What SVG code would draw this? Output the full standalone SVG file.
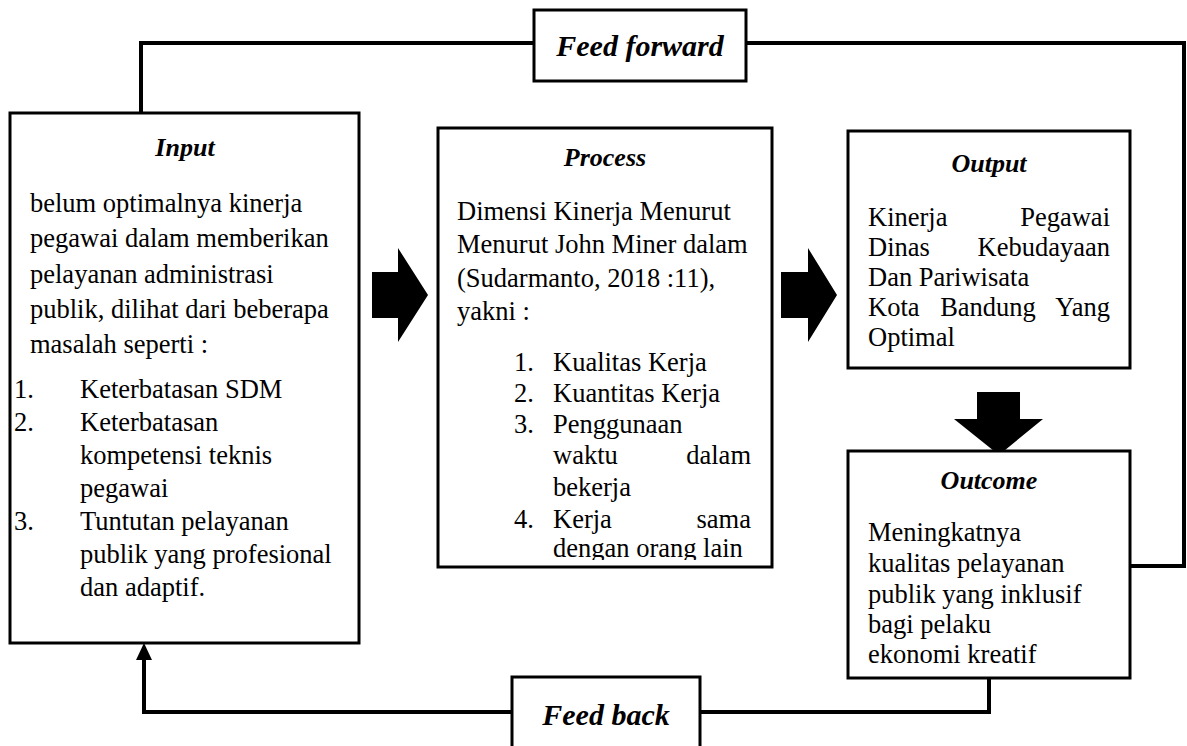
<svg xmlns="http://www.w3.org/2000/svg" width="1187" height="746" viewBox="0 0 1187 746">
<defs>
<style>
.box{fill:#fff;stroke:#000;stroke-width:3}
.t{font-family:"Liberation Serif","Times New Roman",serif;font-size:26.5px;fill:#000}
.h{font-family:"Liberation Serif","Times New Roman",serif;font-size:26px;font-weight:bold;font-style:italic;fill:#000}
.f{font-family:"Liberation Serif","Times New Roman",serif;font-size:30px;font-weight:bold;font-style:italic;fill:#000}
.ln{fill:none;stroke:#000;stroke-width:4}
</style>
<clipPath id="pclip"><rect x="438" y="128" width="334" height="432"/></clipPath>
</defs>
<rect width="1187" height="746" fill="#fff"/>
<g id="connectors">
<polyline class="ln" points="534,43 141,43 141,113"/>
<polyline class="ln" points="746,43 1184,43 1184,566 1130,566"/>
<polyline class="ln" points="989,678 989,712 700,712"/>
<polyline class="ln" points="512,712 144,712 144,656"/>
<path d="M136,660 L144,643 L152,660 Z" fill="#000"/>
<path d="M372,272 H398 V248 L428,295 L398,342 V318 H372 Z" fill="#000"/>
<path d="M781,272 H808 V248 L837,295 L808,342 V318 H781 Z" fill="#000"/>
<path d="M977,392 H1020 V419 H1043 L999,455 L954,419 H977 Z" fill="#000"/>
</g>
<g id="feedforward">
<rect class="box" x="534" y="10" width="212" height="71"/>
<text class="f" x="640" y="56" text-anchor="middle">Feed forward</text>
</g>
<g id="feedback">
<rect class="box" x="512" y="677" width="188" height="90"/>
<text class="f" x="606" y="725" text-anchor="middle">Feed back</text>
</g>
<g id="input">
<rect class="box" x="10" y="113" width="349" height="530"/>
<text class="h" x="185" y="156" text-anchor="middle">Input</text>
<text class="t" x="30" y="212">belum optimalnya kinerja</text>
<text class="t" x="30" y="247">pegawai dalam memberikan</text>
<text class="t" x="30" y="283">pelayanan administrasi</text>
<text class="t" x="30" y="318">publik, dilihat dari beberapa</text>
<text class="t" x="30" y="353">masalah seperti :</text>
<text class="t" x="14" y="398">1.</text><text class="t" x="80" y="398">Keterbatasan SDM</text>
<text class="t" x="14" y="431">2.</text><text class="t" x="80" y="431">Keterbatasan</text>
<text class="t" x="80" y="464">kompetensi teknis</text>
<text class="t" x="80" y="497">pegawai</text>
<text class="t" x="14" y="530">3.</text><text class="t" x="80" y="530">Tuntutan pelayanan</text>
<text class="t" x="80" y="563">publik yang profesional</text>
<text class="t" x="80" y="596">dan adaptif.</text>
</g>
<g id="process">
<rect class="box" x="438" y="128" width="334" height="439"/>
<text class="h" x="605" y="166" text-anchor="middle">Process</text>
<text class="t" x="457" y="220">Dimensi Kinerja Menurut</text>
<text class="t" x="457" y="253">Menurut John Miner dalam</text>
<text class="t" x="457" y="287">(Sudarmanto, 2018 :11),</text>
<text class="t" x="457" y="320">yakni :</text>
<g clip-path="url(#pclip)">
<text class="t" x="514" y="371">1.</text><text class="t" x="553" y="371">Kualitas Kerja</text>
<text class="t" x="514" y="402">2.</text><text class="t" x="553" y="402">Kuantitas Kerja</text>
<text class="t" x="514" y="433">3.</text><text class="t" x="553" y="433">Penggunaan</text>
<text class="t" x="553" y="464">waktu</text><text class="t" x="751" y="464" text-anchor="end">dalam</text>
<text class="t" x="553" y="496">bekerja</text>
<text class="t" x="514" y="528">4.</text><text class="t" x="553" y="528">Kerja</text><text class="t" x="751" y="528" text-anchor="end">sama</text>
<text class="t" x="553" y="557">dengan orang lain</text>
</g>
</g>
<g id="output">
<rect class="box" x="848" y="131" width="282" height="237"/>
<text class="h" x="989" y="172" text-anchor="middle">Output</text>
<text class="t" x="868" y="226">Kinerja</text><text class="t" x="1110" y="226" text-anchor="end">Pegawai</text>
<text class="t" x="868" y="256">Dinas</text><text class="t" x="1110" y="256" text-anchor="end">Kebudayaan</text>
<text class="t" x="868" y="286">Dan Pariwisata</text>
<text class="t" x="868" y="316">Kota</text><text class="t" x="988" y="316" text-anchor="middle">Bandung</text><text class="t" x="1110" y="316" text-anchor="end">Yang</text>
<text class="t" x="868" y="346">Optimal</text>
</g>
<g id="outcome">
<rect class="box" x="848" y="451" width="282" height="227"/>
<text class="h" x="989" y="489" text-anchor="middle">Outcome</text>
<text class="t" x="868" y="541">Meningkatnya</text>
<text class="t" x="868" y="572">kualitas pelayanan</text>
<text class="t" x="868" y="603">publik yang inklusif</text>
<text class="t" x="868" y="633">bagi pelaku</text>
<text class="t" x="868" y="663">ekonomi kreatif</text>
</g>
</svg>
